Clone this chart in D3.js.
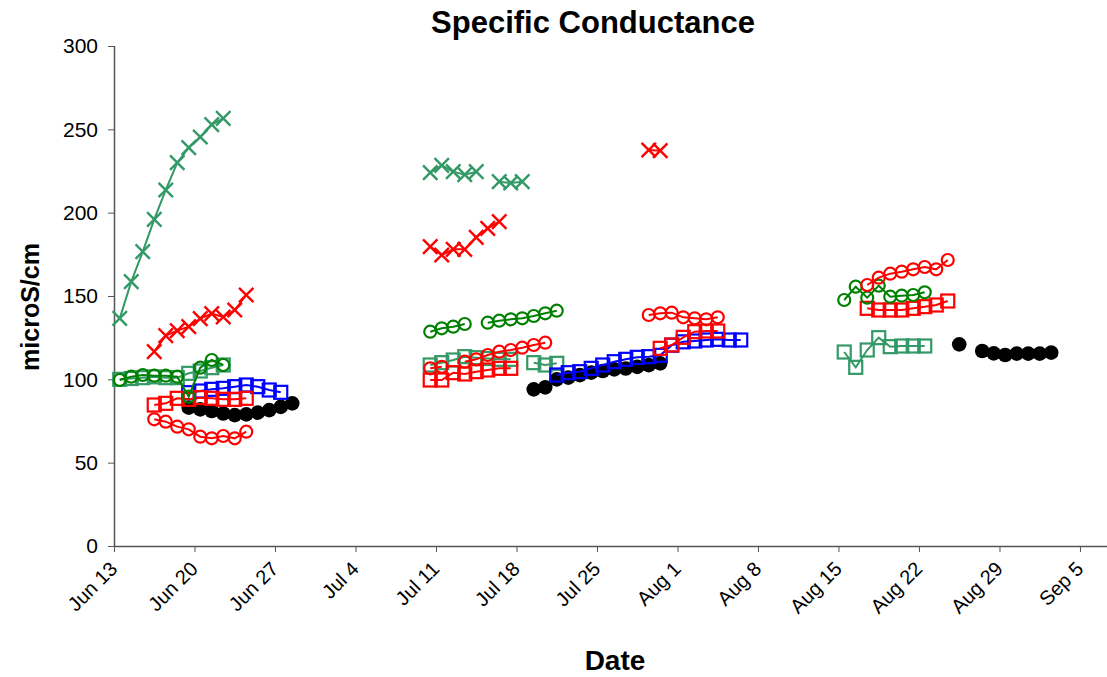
<!DOCTYPE html>
<html>
<head>
<meta charset="utf-8">
<script src="https://cdn.jsdelivr.net/npm/d3@7/dist/d3.min.js"></script>
<style>
  html, body { margin: 0; padding: 0; background: #fff; }
  svg { display: block; font-family: "Liberation Sans", Arial, sans-serif; }
</style>
</head>
<body>
<svg id="chart" width="1107" height="677"></svg>
<script>
// ---- Data (daily readings; each segment = start date + consecutive daily values) ----
const yTicks = [0, 50, 100, 150, 200, 250, 300];
const xTickLabels = ["Jun 13","Jun 20","Jun 27","Jul 4","Jul 11","Jul 18","Jul 25","Aug 1","Aug 8","Aug 15","Aug 22","Aug 29","Sep 5"];

// black filled circles
const blackSeg1 = { start: "2007-06-19T12:00", values: [83, 82, 81, 79.5, 78.5, 79, 80, 81.5, 83.5, 85.6] };
const blackSeg2 = { start: "2007-07-19T12:00", values: [94, 95.2] };
const blackSeg3 = { start: "2007-07-21T12:00", values: [100, 101, 102.5, 104, 105, 106, 106.5, 107.5, 108.5, 109.6] };
const blackSeg4 = { start: "2007-08-25T12:00", values: [121] };
const blackSeg5 = { start: "2007-08-27T12:00", values: [117, 115.6, 114.6, 115.4, 115.4, 115.4, 116] };

// teal open squares
const tealSqSeg1 = { start: "2007-06-13T12:00", values: [100, 100.5, 101, 101.5, 101, 101, 103.6, 105, 107, 108.6] };
const tealSqSeg2 = { start: "2007-07-10T12:00", values: [108.6, 110, 111.6, 113.6, 113, 112.5, 112, 112] };
const tealSqSeg3 = { start: "2007-07-19T12:00", values: [110, 108.6, 109.6] };
const tealSqSeg4 = { start: "2007-08-15T12:00", values: [116.4, 107.2, 117.6, 125, 119.6, 120, 120, 120] };

// blue open squares
const blueSqSeg1 = { start: "2007-06-19T12:00", values: [92, 93, 94, 94.6, 95.6, 96.6, 95.6, 93.6, 92.2] };
const blueSqSeg2 = { start: "2007-07-21T12:00", values: [102.6, 104, 104.6, 106.6, 108.6, 110.6, 112, 113.2, 113.6, 114.4, 120.5, 122.5, 123, 123.6, 124, 123.6, 123.6] };

// red open squares
const redSqSeg1 = { start: "2007-06-16T12:00", values: [84.6, 85.6, 88.6, 88, 89, 88.6, 88, 88, 88.6] };
const redSqSeg2 = { start: "2007-07-10T12:00", values: [99.6, 99.6, 104, 103.2, 104.6, 105.6, 106.6, 106.6] };
const redSqSeg3 = { start: "2007-07-30T12:00", values: [118.6, 120.6, 125.2, 128.6, 129, 129] };
const redSqSeg4 = { start: "2007-08-17T12:00", values: [142.6, 141.6, 141.6, 141.6, 142.6, 143.6, 144.6, 147] };

// green open circles
const greenCirSeg1 = { start: "2007-06-13T12:00", values: [99.6, 101.6, 102.6, 102.2, 102.2, 101.6, 89.6, 107, 111.6, 108.6] };
const greenCirSeg2 = { start: "2007-07-10T12:00", values: [128.6, 130.6, 131.6, 133.2] };
const greenCirSeg3 = { start: "2007-07-15T12:00", values: [134, 135.2, 136, 136.6, 138, 139.6, 141.2] };
const greenCirSeg4 = { start: "2007-08-15T12:00", values: [147.6, 155.6, 149, 156.2, 149.6, 150.2, 150.6, 152.2] };

// red open circles
const redCirSeg1 = { start: "2007-06-16T12:00", values: [76, 74.6, 71.6, 70, 65.6, 64.6, 66, 64.6, 68.6] };
const redCirSeg2 = { start: "2007-07-10T12:00", values: [106.6, 107.5] };
const redCirSeg3 = { start: "2007-07-13T12:00", values: [110.6, 112, 114.6, 116.6, 117.6, 119, 120.6, 122] };
const redCirSeg4 = { start: "2007-07-29T12:00", values: [138.6, 139.6, 140, 137.2, 136.6, 136, 137.2] };
const redCirSeg5 = { start: "2007-08-17T12:00", values: [156.6, 161, 163.4, 164.6, 166, 167.4, 166, 171.6] };

// red X
const redXSeg1 = { start: "2007-06-16T12:00", values: [116.6, 126.2, 129.2, 131.6, 136.4, 139.4, 137.4, 141.6, 150.6] };
const redXSeg2 = { start: "2007-07-10T12:00", values: [179.6, 174.6, 178, 178, 185.2, 190.6, 194.6] };
const redXSeg3 = { start: "2007-07-29T12:00", values: [237.6, 237.2] };

// teal X
const tealXSeg1 = { start: "2007-06-13T12:00", values: [136.6, 158.6, 176.6, 196, 213.6, 230, 239, 245.4, 252.8, 256.6] };
const tealXSeg2 = { start: "2007-07-10T12:00", values: [224, 228.4, 224.6, 222.8, 224.6] };
const tealXSeg3 = { start: "2007-07-16T12:00", values: [218.6, 217.8, 218.6] };

const seriesList = [
  { color: "#000000", marker: "dot",    segs: [blackSeg1, blackSeg2, blackSeg3, blackSeg4, blackSeg5] },
  { color: "#339966", marker: "square", segs: [tealSqSeg1, tealSqSeg2, tealSqSeg3, tealSqSeg4] },
  { color: "#0000FF", marker: "square", segs: [blueSqSeg1, blueSqSeg2] },
  { color: "#FF0000", marker: "square", segs: [redSqSeg1, redSqSeg2, redSqSeg3, redSqSeg4] },
  { color: "#008000", marker: "circle", segs: [greenCirSeg1, greenCirSeg2, greenCirSeg3, greenCirSeg4] },
  { color: "#FF0000", marker: "circle", segs: [redCirSeg1, redCirSeg2, redCirSeg3, redCirSeg4, redCirSeg5] },
  { color: "#FF0000", marker: "x",      segs: [redXSeg1, redXSeg2, redXSeg3] },
  { color: "#339966", marker: "x",      segs: [tealXSeg1, tealXSeg2, tealXSeg3] }
];

(function () {
  const svg = d3.select("#chart");
  const pLeft = 114, pRight = 1107, pTop = 46, pBottom = 546;
  const parse = d3.isoParse;
  const x0 = new Date(2007, 5, 13, 0, 0);
  const x1 = new Date(x0.getTime() + 86.35 * 864e5);
  const x = d3.scaleTime().domain([x0, x1]).range([pLeft, pRight]);
  const y = d3.scaleLinear().domain([0, 300]).range([pBottom, pTop]);

  function segPoints(seg) {
    const s = parse(seg.start);
    return seg.values.map((v, i) => ({ d: d3.timeDay.offset(s, i), v }));
  }

  // Axes
  const tickDates = xTickLabels.map((_, i) => d3.timeDay.offset(x0, 7 * i));
  const xAxis = d3.axisBottom(x).tickValues(tickDates).tickSize(6).tickFormat((d, i) => xTickLabels[i]);
  const gx = svg.append("g").attr("transform", `translate(0,${pBottom})`).call(xAxis);
  gx.select(".domain").attr("stroke", "#555").attr("stroke-width", 1.5).attr("d", `M${pLeft},0.5H${pRight}`);
  gx.selectAll(".tick line").attr("stroke", "#555");
  gx.selectAll(".tick text")
    .attr("font-size", 20).attr("fill", "#000")
    .attr("text-anchor", "end")
    .attr("transform", "translate(-6,14) rotate(-45)")
    .attr("dy", "0.71em").attr("y", 0).attr("x", 0);

  const yAxis = d3.axisLeft(y).tickValues(yTicks).tickSize(6).tickPadding(10);
  const gy = svg.append("g").attr("transform", `translate(${pLeft},0)`).call(yAxis);
  gy.select(".domain").attr("stroke", "#555").attr("stroke-width", 1.5).attr("d", `M0.5,${pTop}V${pBottom}`);
  gy.selectAll(".tick line").attr("stroke", "#555");
  gy.selectAll(".tick text").attr("font-size", 21).attr("fill", "#000");

  // Titles
  svg.append("text").attr("x", 593).attr("y", 33).attr("text-anchor", "middle")
    .attr("font-size", 31).attr("font-weight", "bold").text("Specific Conductance");
  svg.append("text").attr("x", 615).attr("y", 670).attr("text-anchor", "middle")
    .attr("font-size", 28).attr("font-weight", "bold").text("Date");
  svg.append("text").attr("transform", "translate(39,307) rotate(-90)").attr("text-anchor", "middle")
    .attr("font-size", 25).attr("font-weight", "bold").text("microS/cm");

  // Series
  const line = d3.line().x(p => x(p.d)).y(p => y(p.v));
  seriesList.forEach(s => {
    const g = svg.append("g");
    s.segs.forEach(seg => {
      const pts = segPoints(seg);
      if (pts.length > 1) {
        g.append("path").attr("d", line(pts)).attr("fill", "none")
          .attr("stroke", s.color).attr("stroke-width", 2);
      }
      pts.forEach(p => {
        const cx = x(p.d), cy = y(p.v);
        if (s.marker === "dot") {
          g.append("circle").attr("cx", cx).attr("cy", cy).attr("r", 7.3).attr("fill", s.color);
        } else if (s.marker === "circle") {
          g.append("circle").attr("cx", cx).attr("cy", cy).attr("r", 6)
            .attr("fill", "none").attr("stroke", s.color).attr("stroke-width", 2.2);
        } else if (s.marker === "square") {
          g.append("rect").attr("x", cx - 6.5).attr("y", cy - 6.5).attr("width", 13).attr("height", 13)
            .attr("fill", "none").attr("stroke", s.color).attr("stroke-width", 2.2);
        } else if (s.marker === "x") {
          const r = 7.2;
          g.append("path").attr("d", `M${cx - r},${cy - r}L${cx + r},${cy + r}M${cx - r},${cy + r}L${cx + r},${cy - r}`)
            .attr("stroke", s.color).attr("stroke-width", 2.4).attr("fill", "none");
        }
      });
    });
  });
})();
</script>
</body>
</html>
